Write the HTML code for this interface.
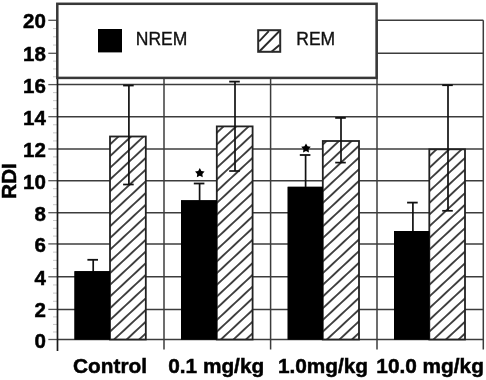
<!DOCTYPE html><html><head><meta charset="utf-8"><style>html,body{margin:0;padding:0;background:#fff;}svg{display:block;filter:blur(0.35px);}text{font-family:"Liberation Sans",sans-serif;}</style></head><body>
<svg width="486" height="380" viewBox="0 0 486 380">
<defs><pattern id="h0" patternUnits="userSpaceOnUse" width="60" height="8.5568" patternTransform="translate(110.9,295.7) rotate(-43.0)"><rect x="0" y="0" width="60" height="0.9" fill="#333"/><rect x="0" y="7.6568" width="60" height="0.9" fill="#333"/></pattern><pattern id="h1" patternUnits="userSpaceOnUse" width="60" height="8.5568" patternTransform="translate(217.70000000000002,295.7) rotate(-43.0)"><rect x="0" y="0" width="60" height="0.9" fill="#333"/><rect x="0" y="7.6568" width="60" height="0.9" fill="#333"/></pattern><pattern id="h2" patternUnits="userSpaceOnUse" width="60" height="8.5568" patternTransform="translate(323.7,295.7) rotate(-43.0)"><rect x="0" y="0" width="60" height="0.9" fill="#333"/><rect x="0" y="7.6568" width="60" height="0.9" fill="#333"/></pattern><pattern id="h3" patternUnits="userSpaceOnUse" width="60" height="8.5568" patternTransform="translate(430.2,295.7) rotate(-43.0)"><rect x="0" y="0" width="60" height="0.9" fill="#333"/><rect x="0" y="7.6568" width="60" height="0.9" fill="#333"/></pattern></defs>
<rect width="486" height="380" fill="#fff"/>
<line x1="57.5" y1="339.5" x2="483.3" y2="339.5" stroke="#3c3c3c" stroke-width="1.5"/>
<line x1="57.5" y1="309.4" x2="483.3" y2="309.4" stroke="#3c3c3c" stroke-width="1.5"/>
<line x1="57.5" y1="276.8" x2="483.3" y2="276.8" stroke="#3c3c3c" stroke-width="1.5"/>
<line x1="57.5" y1="243.9" x2="483.3" y2="243.9" stroke="#3c3c3c" stroke-width="1.5"/>
<line x1="57.5" y1="212.7" x2="483.3" y2="212.7" stroke="#3c3c3c" stroke-width="1.5"/>
<line x1="57.5" y1="180.7" x2="483.3" y2="180.7" stroke="#3c3c3c" stroke-width="1.5"/>
<line x1="57.5" y1="149.0" x2="483.3" y2="149.0" stroke="#3c3c3c" stroke-width="1.5"/>
<line x1="57.5" y1="116.7" x2="483.3" y2="116.7" stroke="#3c3c3c" stroke-width="1.5"/>
<line x1="57.5" y1="84.6" x2="483.3" y2="84.6" stroke="#3c3c3c" stroke-width="1.5"/>
<line x1="376.6" y1="53.3" x2="483.3" y2="53.3" stroke="#3c3c3c" stroke-width="1.5"/>
<line x1="376.6" y1="20.3" x2="483.3" y2="20.3" stroke="#3c3c3c" stroke-width="1.5"/>
<line x1="48.3" y1="339.5" x2="57.5" y2="339.5" stroke="#555" stroke-width="1.3"/>
<line x1="48.3" y1="309.4" x2="57.5" y2="309.4" stroke="#555" stroke-width="1.3"/>
<line x1="48.3" y1="276.8" x2="57.5" y2="276.8" stroke="#555" stroke-width="1.3"/>
<line x1="48.3" y1="243.9" x2="57.5" y2="243.9" stroke="#555" stroke-width="1.3"/>
<line x1="48.3" y1="212.7" x2="57.5" y2="212.7" stroke="#555" stroke-width="1.3"/>
<line x1="48.3" y1="180.7" x2="57.5" y2="180.7" stroke="#555" stroke-width="1.3"/>
<line x1="48.3" y1="149.0" x2="57.5" y2="149.0" stroke="#555" stroke-width="1.3"/>
<line x1="48.3" y1="116.7" x2="57.5" y2="116.7" stroke="#555" stroke-width="1.3"/>
<line x1="48.3" y1="84.6" x2="57.5" y2="84.6" stroke="#555" stroke-width="1.3"/>
<line x1="48.3" y1="53.3" x2="57.5" y2="53.3" stroke="#555" stroke-width="1.3"/>
<line x1="48.3" y1="20.3" x2="57.5" y2="20.3" stroke="#555" stroke-width="1.3"/>
<line x1="53" y1="331.98" x2="57.5" y2="331.98" stroke="#c8c8c8" stroke-width="1"/>
<line x1="53" y1="324.45" x2="57.5" y2="324.45" stroke="#c8c8c8" stroke-width="1"/>
<line x1="53" y1="316.92" x2="57.5" y2="316.92" stroke="#c8c8c8" stroke-width="1"/>
<line x1="53" y1="301.25" x2="57.5" y2="301.25" stroke="#c8c8c8" stroke-width="1"/>
<line x1="53" y1="293.10" x2="57.5" y2="293.10" stroke="#c8c8c8" stroke-width="1"/>
<line x1="53" y1="284.95" x2="57.5" y2="284.95" stroke="#c8c8c8" stroke-width="1"/>
<line x1="53" y1="268.57" x2="57.5" y2="268.57" stroke="#c8c8c8" stroke-width="1"/>
<line x1="53" y1="260.35" x2="57.5" y2="260.35" stroke="#c8c8c8" stroke-width="1"/>
<line x1="53" y1="252.12" x2="57.5" y2="252.12" stroke="#c8c8c8" stroke-width="1"/>
<line x1="53" y1="236.10" x2="57.5" y2="236.10" stroke="#c8c8c8" stroke-width="1"/>
<line x1="53" y1="228.30" x2="57.5" y2="228.30" stroke="#c8c8c8" stroke-width="1"/>
<line x1="53" y1="220.50" x2="57.5" y2="220.50" stroke="#c8c8c8" stroke-width="1"/>
<line x1="53" y1="204.70" x2="57.5" y2="204.70" stroke="#c8c8c8" stroke-width="1"/>
<line x1="53" y1="196.70" x2="57.5" y2="196.70" stroke="#c8c8c8" stroke-width="1"/>
<line x1="53" y1="188.70" x2="57.5" y2="188.70" stroke="#c8c8c8" stroke-width="1"/>
<line x1="53" y1="172.77" x2="57.5" y2="172.77" stroke="#c8c8c8" stroke-width="1"/>
<line x1="53" y1="164.85" x2="57.5" y2="164.85" stroke="#c8c8c8" stroke-width="1"/>
<line x1="53" y1="156.93" x2="57.5" y2="156.93" stroke="#c8c8c8" stroke-width="1"/>
<line x1="53" y1="140.93" x2="57.5" y2="140.93" stroke="#c8c8c8" stroke-width="1"/>
<line x1="53" y1="132.85" x2="57.5" y2="132.85" stroke="#c8c8c8" stroke-width="1"/>
<line x1="53" y1="124.78" x2="57.5" y2="124.78" stroke="#c8c8c8" stroke-width="1"/>
<line x1="53" y1="108.67" x2="57.5" y2="108.67" stroke="#c8c8c8" stroke-width="1"/>
<line x1="53" y1="100.65" x2="57.5" y2="100.65" stroke="#c8c8c8" stroke-width="1"/>
<line x1="53" y1="92.62" x2="57.5" y2="92.62" stroke="#c8c8c8" stroke-width="1"/>
<line x1="53" y1="76.77" x2="57.5" y2="76.77" stroke="#c8c8c8" stroke-width="1"/>
<line x1="53" y1="68.95" x2="57.5" y2="68.95" stroke="#c8c8c8" stroke-width="1"/>
<line x1="53" y1="61.12" x2="57.5" y2="61.12" stroke="#c8c8c8" stroke-width="1"/>
<line x1="53" y1="45.05" x2="57.5" y2="45.05" stroke="#c8c8c8" stroke-width="1"/>
<line x1="53" y1="36.80" x2="57.5" y2="36.80" stroke="#c8c8c8" stroke-width="1"/>
<line x1="53" y1="28.55" x2="57.5" y2="28.55" stroke="#c8c8c8" stroke-width="1"/>
<line x1="164.0" y1="77.9" x2="164.0" y2="349.5" stroke="#3c3c3c" stroke-width="1.5"/>
<line x1="270.6" y1="77.9" x2="270.6" y2="349.5" stroke="#3c3c3c" stroke-width="1.5"/>
<line x1="377.0" y1="20.3" x2="377.0" y2="349.5" stroke="#3c3c3c" stroke-width="1.5"/>
<line x1="483.3" y1="20.3" x2="483.3" y2="349.5" stroke="#3c3c3c" stroke-width="1.5"/>
<line x1="57.5" y1="3.8" x2="57.5" y2="351" stroke="#1a1a1a" stroke-width="1.7"/>
<rect x="110.0" y="136.5" width="35.80000000000001" height="203.0" fill="#fff"/>
<rect x="110.0" y="136.5" width="35.80000000000001" height="203.0" fill="url(#h0)"/>
<rect x="110.0" y="136.5" width="35.80000000000001" height="203.0" fill="none" stroke="#222" stroke-width="1.8"/>
<rect x="74.5" y="271.2" width="35.5" height="68.30000000000001" fill="#000"/>
<rect x="216.8" y="126.4" width="35.79999999999998" height="213.1" fill="#fff"/>
<rect x="216.8" y="126.4" width="35.79999999999998" height="213.1" fill="url(#h1)"/>
<rect x="216.8" y="126.4" width="35.79999999999998" height="213.1" fill="none" stroke="#222" stroke-width="1.8"/>
<rect x="181.0" y="200.3" width="35.80000000000001" height="139.2" fill="#000"/>
<rect x="322.8" y="141.0" width="36.19999999999999" height="198.5" fill="#fff"/>
<rect x="322.8" y="141.0" width="36.19999999999999" height="198.5" fill="url(#h2)"/>
<rect x="322.8" y="141.0" width="36.19999999999999" height="198.5" fill="none" stroke="#222" stroke-width="1.8"/>
<rect x="287.7" y="186.8" width="35.10000000000002" height="152.7" fill="#000"/>
<rect x="429.3" y="149.3" width="35.69999999999999" height="190.2" fill="#fff"/>
<rect x="429.3" y="149.3" width="35.69999999999999" height="190.2" fill="url(#h3)"/>
<rect x="429.3" y="149.3" width="35.69999999999999" height="190.2" fill="none" stroke="#222" stroke-width="1.8"/>
<rect x="394.0" y="231.0" width="35.30000000000001" height="108.5" fill="#000"/>
<line x1="93.2" y1="259.8" x2="93.2" y2="273.2" stroke="#111" stroke-width="1.7"/>
<line x1="87.4" y1="259.8" x2="98.0" y2="259.8" stroke="#111" stroke-width="1.8"/>
<line x1="128.9" y1="85.5" x2="128.9" y2="184.5" stroke="#111" stroke-width="1.7"/>
<line x1="123.10000000000001" y1="184.5" x2="133.70000000000002" y2="184.5" stroke="#111" stroke-width="1.7"/>
<line x1="123.10000000000001" y1="85.5" x2="133.70000000000002" y2="85.5" stroke="#111" stroke-width="1.8"/>
<line x1="199.6" y1="183.5" x2="199.6" y2="202.3" stroke="#111" stroke-width="1.7"/>
<line x1="193.79999999999998" y1="183.5" x2="204.4" y2="183.5" stroke="#111" stroke-width="1.8"/>
<line x1="235.0" y1="81.6" x2="235.0" y2="171.0" stroke="#111" stroke-width="1.7"/>
<line x1="229.2" y1="171.0" x2="239.8" y2="171.0" stroke="#111" stroke-width="1.7"/>
<line x1="229.2" y1="81.6" x2="239.8" y2="81.6" stroke="#111" stroke-width="1.8"/>
<line x1="305.6" y1="155.0" x2="305.6" y2="188.8" stroke="#111" stroke-width="1.7"/>
<line x1="299.8" y1="155.0" x2="310.40000000000003" y2="155.0" stroke="#111" stroke-width="1.8"/>
<line x1="341.0" y1="117.9" x2="341.0" y2="162.6" stroke="#111" stroke-width="1.7"/>
<line x1="335.2" y1="162.6" x2="345.8" y2="162.6" stroke="#111" stroke-width="1.7"/>
<line x1="335.2" y1="117.9" x2="345.8" y2="117.9" stroke="#111" stroke-width="1.8"/>
<line x1="412.9" y1="202.6" x2="412.9" y2="233.0" stroke="#111" stroke-width="1.7"/>
<line x1="407.09999999999997" y1="202.6" x2="417.7" y2="202.6" stroke="#111" stroke-width="1.8"/>
<line x1="448.0" y1="85.2" x2="448.0" y2="210.8" stroke="#111" stroke-width="1.7"/>
<line x1="442.2" y1="210.8" x2="452.8" y2="210.8" stroke="#111" stroke-width="1.7"/>
<line x1="442.2" y1="85.2" x2="452.8" y2="85.2" stroke="#111" stroke-width="1.8"/>
<rect x="74.5" y="271.2" width="35.5" height="68.30000000000001" fill="#000"/>
<rect x="181.0" y="200.3" width="35.80000000000001" height="139.2" fill="#000"/>
<rect x="287.7" y="186.8" width="35.10000000000002" height="152.7" fill="#000"/>
<rect x="394.0" y="231.0" width="35.30000000000001" height="108.5" fill="#000"/>
<polygon points="199.80,168.10 201.39,170.92 204.56,171.55 202.37,173.93 202.74,177.15 199.80,175.80 196.86,177.15 197.23,173.93 195.04,171.55 198.21,170.92" fill="#000"/>
<polygon points="306.00,143.40 307.59,146.22 310.76,146.85 308.57,149.23 308.94,152.45 306.00,151.10 303.06,152.45 303.43,149.23 301.24,146.85 304.41,146.22" fill="#000"/>
<rect x="57.3" y="3.8" width="319.3" height="74.10000000000001" fill="#fff" stroke="#383838" stroke-width="2.5"/>
<rect x="98" y="29" width="24" height="23.4" fill="#000"/>
<rect x="258.2" y="30.2" width="22" height="21.6" fill="#fff" stroke="#2a2a2a" stroke-width="2"/>
<path d="M259.1,41.4 L268.8,31.2 M259.3,51.5 L279.5,31.0 M271.5,51.8 L279.5,45.0" stroke="#2a2a2a" stroke-width="1.9" fill="none"/>
<text x="135.8" y="44.8" font-size="17.5" fill="#111" stroke="#111" stroke-width="0.35">NREM</text>
<text x="296.3" y="44.8" font-size="17.5" fill="#111" stroke="#111" stroke-width="0.35">REM</text>
<text x="45.8" y="347.5" font-size="20.5" font-weight="bold" text-anchor="end" fill="#000" stroke="#000" stroke-width="0.5">0</text>
<text x="45.8" y="317.4" font-size="20.5" font-weight="bold" text-anchor="end" fill="#000" stroke="#000" stroke-width="0.5">2</text>
<text x="45.8" y="284.8" font-size="20.5" font-weight="bold" text-anchor="end" fill="#000" stroke="#000" stroke-width="0.5">4</text>
<text x="45.8" y="251.9" font-size="20.5" font-weight="bold" text-anchor="end" fill="#000" stroke="#000" stroke-width="0.5">6</text>
<text x="45.8" y="220.7" font-size="20.5" font-weight="bold" text-anchor="end" fill="#000" stroke="#000" stroke-width="0.5">8</text>
<text x="45.8" y="188.7" font-size="20.5" font-weight="bold" text-anchor="end" fill="#000" stroke="#000" stroke-width="0.5">10</text>
<text x="45.8" y="157.0" font-size="20.5" font-weight="bold" text-anchor="end" fill="#000" stroke="#000" stroke-width="0.5">12</text>
<text x="45.8" y="124.7" font-size="20.5" font-weight="bold" text-anchor="end" fill="#000" stroke="#000" stroke-width="0.5">14</text>
<text x="45.8" y="92.6" font-size="20.5" font-weight="bold" text-anchor="end" fill="#000" stroke="#000" stroke-width="0.5">16</text>
<text x="45.8" y="61.3" font-size="20.5" font-weight="bold" text-anchor="end" fill="#000" stroke="#000" stroke-width="0.5">18</text>
<text x="45.8" y="28.3" font-size="20.5" font-weight="bold" text-anchor="end" fill="#000" stroke="#000" stroke-width="0.5">20</text>
<text transform="translate(15.6,181) rotate(-90)" font-size="20.5" font-weight="bold" text-anchor="middle" fill="#000" stroke="#000" stroke-width="0.5">RDI</text>
<text x="110.0" y="372.6" font-size="20.8" font-weight="bold" text-anchor="middle" fill="#000" stroke="#000" stroke-width="0.5">Control</text>
<text x="216.2" y="372.6" font-size="20.8" font-weight="bold" text-anchor="middle" fill="#000" stroke="#000" stroke-width="0.5">0.1 mg/kg</text>
<text x="323.0" y="372.6" font-size="20.8" font-weight="bold" text-anchor="middle" fill="#000" stroke="#000" stroke-width="0.5">1.0mg/kg</text>
<text x="430.1" y="372.6" font-size="20.8" font-weight="bold" text-anchor="middle" fill="#000" stroke="#000" stroke-width="0.5">10.0 mg/kg</text>
</svg></body></html>
